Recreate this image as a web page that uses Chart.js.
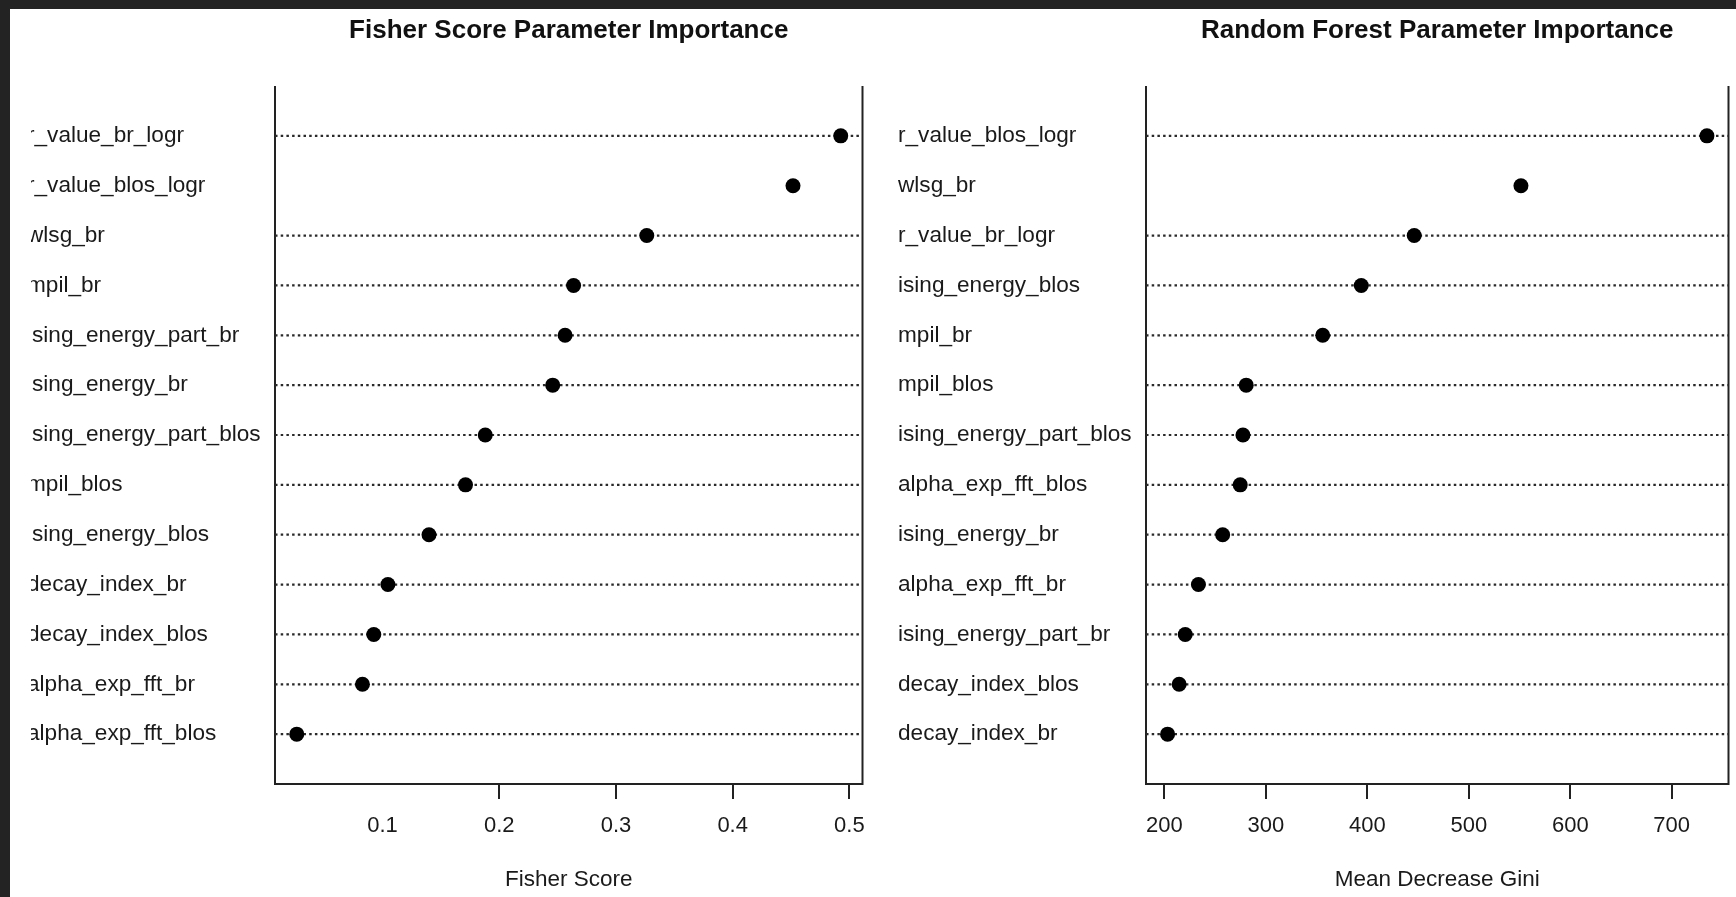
<!DOCTYPE html>
<html><head><meta charset="utf-8">
<script src="https://cdn.jsdelivr.net/npm/chart.js@4.4.1/dist/chart.umd.min.js"></script>
<style>
html,body{margin:0;padding:0;width:1736px;height:897px;overflow:hidden;background:#232323;}
#paper{position:absolute;left:10px;top:9px;width:1726px;height:888px;background:#fff;}
.clip{position:absolute;overflow:hidden;}
.box{position:absolute;}
</style></head><body>
<div id="paper"></div>
<div class="clip" style="left:31px;top:9px;width:857px;height:888px;">
  <div class="box" style="left:-4px;top:0;width:861px;height:888px;"><canvas id="c1"></canvas></div>
</div>
<div class="clip" style="left:898px;top:9px;width:838px;height:888px;">
  <div class="box" style="left:0;top:0;width:838px;height:888px;"><canvas id="c2"></canvas></div>
</div>
<script>
// ---- data ----
const fisherParams = ["r_value_br_logr","r_value_blos_logr","wlsg_br","mpil_br","ising_energy_part_br","ising_energy_br","ising_energy_part_blos","mpil_blos","ising_energy_blos","decay_index_br","decay_index_blos","alpha_exp_fft_br","alpha_exp_fft_blos"];
const fisherScores = [0.4926,0.4517,0.3264,0.2637,0.2564,0.2458,0.188,0.1711,0.1398,0.1046,0.0925,0.0828,0.0265];
const fisherTicks = [0.1,0.2,0.3,0.4,0.5];
const fisherTickMarks = [0.2,0.3,0.4,0.5];

const rfParams = ["r_value_blos_logr","wlsg_br","r_value_br_logr","ising_energy_blos","mpil_br","mpil_blos","ising_energy_part_blos","alpha_exp_fft_blos","ising_energy_br","alpha_exp_fft_br","ising_energy_part_br","decay_index_blos","decay_index_br"];
const rfGini = [734.7,551.4,446.2,394,356,280.6,277.4,274.7,257.4,233.5,220.5,214.5,203.1];
const giniTicks = [200,300,400,500,600,700];
const giniTickMarks = [200,300,400,500,600,700];

const FONT = "'Liberation Sans', Arial, Helvetica, sans-serif";

const boxPlugin = {
  id: 'box',
  beforeDatasetsDraw(chart) {
    const {ctx, chartArea: a} = chart;
    ctx.save();
    ctx.strokeStyle = '#222';
    ctx.lineWidth = 2;
    ctx.beginPath();
    ctx.moveTo(a.left, a.top);
    ctx.lineTo(a.left, a.bottom);
    ctx.lineTo(a.right, a.bottom);
    ctx.lineTo(a.right, a.top);
    ctx.stroke();
    ctx.restore();
  }
};

function makeChart(id, params, values, tickVals, markVals, titleText, axisText, padRight) {
  const lo = Math.min(...values), hi = Math.max(...values);
  const ext = 0.04 * (hi - lo);
  const xmin = lo - ext, xmax = hi + ext;
  const rows = params.map((_, i) => i + 1);
  // guide lines (row 2 shows no guide in the reference)
  const guides = rows.filter(r => r !== 2).map(r => ({
    type: 'scatter', showLine: true,
    data: [{x: xmin, y: r}, {x: xmax, y: r}],
    borderColor: '#2a2a2a', borderWidth: 2.2, borderDash: [2.5, 3.2],
    pointRadius: 0, order: 2
  }));
  const dots = {
    type: 'scatter',
    data: values.map((v, i) => ({x: v, y: i + 1})),
    pointRadius: 7.5, pointHoverRadius: 7.5,
    backgroundColor: '#000', borderWidth: 0, order: 0
  };
  return new Chart(document.getElementById(id), {
    type: 'scatter',
    data: {datasets: [dots, ...guides]},
    plugins: [boxPlugin],
    options: {
      responsive: true, maintainAspectRatio: false, animation: false, devicePixelRatio: 1,
      layout: {padding: {left: 0, right: padRight, top: 0, bottom: 0}},
      plugins: {
        legend: {display: false}, tooltip: {enabled: false},
        title: {display: true, text: titleText, fullSize: false, color: '#111',
          font: {family: FONT, size: 26, weight: 'bold', lineHeight: 1.2},
          padding: {top: 6.4, bottom: 39.4}}
      },
      scales: {
        x: {
          type: 'linear', position: 'bottom', min: xmin, max: xmax,
          afterBuildTicks: s => { s.ticks = tickVals.map(v => ({value: v})); },
          afterFit: s => { s.height = 113; },
          grid: {display: true, drawOnChartArea: false, drawTicks: true, tickLength: 15, lineWidth: 2,
            color: c => (c.tick && markVals.includes(c.tick.value)) ? '#222' : 'rgba(0,0,0,0)'},
          border: {display: false},
          ticks: {padding: 13.8, color: '#1a1a1a', font: {family: FONT, size: 22}, autoSkip: false,
            maxRotation: 0, callback: v => String(v)},
          title: {display: true, text: axisText, color: '#1a1a1a', font: {family: FONT, size: 22.5},
            padding: {top: 0, bottom: 3.8}}
        },
        y: {
          type: 'linear', min: 0, max: params.length + 1, reverse: true,
          afterBuildTicks: s => { s.ticks = rows.map(v => ({value: v})); },
          afterFit: s => { s.width = 248; },
          grid: {display: false}, border: {display: false},
          ticks: {crossAlign: 'far', autoSkip: false, color: '#1a1a1a', font: {family: FONT, size: 22.6},
            callback: v => params[v - 1]}
        }
      }
    }
  });
}

makeChart('c1', fisherParams, fisherScores, fisherTicks, fisherTickMarks,
  'Fisher Score Parameter Importance', 'Fisher Score', 25.5);
makeChart('c2', rfParams, rfGini, giniTicks, giniTickMarks,
  'Random Forest Parameter Importance', 'Mean Decrease Gini', 5);
</script>
</body></html>
